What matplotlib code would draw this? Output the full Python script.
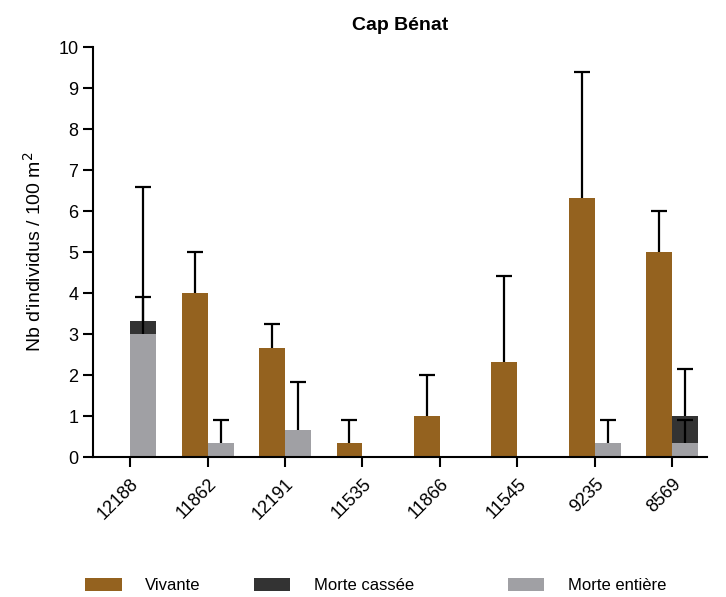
import matplotlib.pyplot as plt
import numpy as np

plt.rcParams['font.family'] = ['Liberation Sans', 'DejaVu Sans']

sites = ["12188", "11862", "12191", "11535", "11866", "11545", "9235", "8569"]

vivante = [0, 4.0, 2.67, 0.33, 1.0, 2.33, 6.33, 5.0]
vivante_err = [0, 1.0, 0.58, 0.58, 1.0, 2.08, 3.07, 1.0]

entiere = [3.0, 0.33, 0.67, 0, 0, 0, 0.33, 0.33]
entiere_err = [3.6, 0.58, 1.15, 0, 0, 0, 0.58, 0.58]

cassee = [0.33, 0, 0, 0, 0, 0, 0, 0.67]
cassee_err = [0.58, 0, 0, 0, 0, 0, 0, 1.15]

c_viv = "#94621f"
c_cas = "#333333"
c_ent = "#a0a0a4"

fig = plt.figure(figsize=(7.26, 5.97), dpi=100)
ax = fig.add_axes([0.128, 0.2345, 0.846, 0.6865])

x = np.arange(len(sites))
w = 0.335
ebar = dict(fmt="none", ecolor="black", elinewidth=1.6, capsize=6, capthick=1.6)

ax.bar(x - w / 2, vivante, w, color=c_viv, label="Vivante")
ax.bar(x + w / 2, entiere, w, color=c_ent, label="Morte entière")
top = np.array(entiere) + np.array(cassee)
ax.bar(x + w / 2, cassee, w, bottom=entiere, color=c_cas, label="Morte cassée")


def up_errors(xpos, ypos, err):
    # only the upper half of the error bar, no cap at the bar top
    ypos = np.array(ypos)
    err = np.array(err)
    m = err > 0
    lo = np.zeros(m.sum())
    _, caps, _ = ax.errorbar(xpos[m], ypos[m], yerr=[lo, err[m]], **ebar)
    for c in caps:
        if np.allclose(c.get_ydata(), ypos[m]):
            c.set_visible(False)


up_errors(x - w / 2, vivante, vivante_err)
up_errors(x + w / 2, entiere, entiere_err)
up_errors(x + w / 2, top, cassee_err)

ax.set_xlim(-0.48, 7.45)
ax.set_ylim(0, 10)
ax.set_yticks(range(0, 11))
ax.set_xticks(x)
ax.set_xticklabels(sites, rotation=45, ha="right", rotation_mode="anchor")
ax.tick_params(axis="both", labelsize=13, width=1.5, length=7, color="black")
ax.tick_params(axis="x", pad=6)
for s in ["top", "right"]:
    ax.spines[s].set_visible(False)
for s in ["left", "bottom"]:
    ax.spines[s].set_linewidth(1.5)

ax.set_ylabel("Nb d'individus / 100 m$^2$", fontsize=14, labelpad=10)
ax.set_title("Cap Bénat", fontsize=14, fontweight="bold", pad=12)

# legend entries placed one by one along the bottom
handles, labels = ax.get_legend_handles_labels()
order = {"Vivante": 0.108, "Morte cassée": 0.340, "Morte entière": 0.690}
for h, l in zip(handles, labels):
    fig.legend([h], [l], loc="lower left", bbox_to_anchor=(order[l], -0.005),
               frameon=False, fontsize=12, handlelength=2.2, handleheight=0.8,
               handletextpad=1.4, borderaxespad=0)

fig.savefig("out.png", dpi=100)
